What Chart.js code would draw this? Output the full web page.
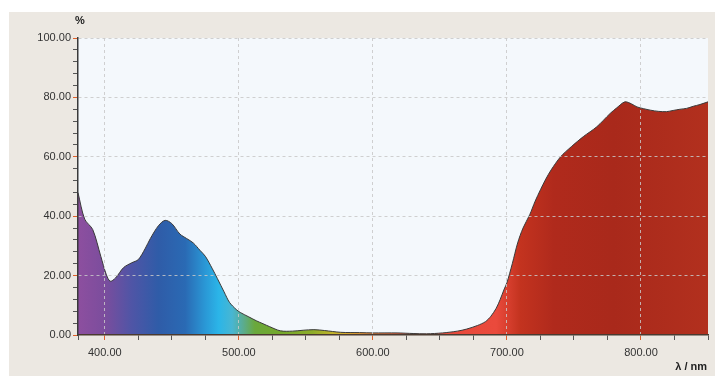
<!DOCTYPE html>
<html>
<head>
  <title>Transmission spectrum</title>
  <script src="https://cdn.jsdelivr.net/npm/chart.js"></script>
  <style>
    html, body { margin: 0; padding: 0; background: #fff; }
    #wrap { width: 723px; height: 376px; }
  </style>
</head>
<body>
  <div id="wrap"><canvas id="spectrum" width="723" height="376"></canvas></div>

  <script>
    // wavelength, nm
    const wavelengths = [380, 385, 391, 397, 401, 404, 408, 414, 420, 425, 430, 434, 440, 445, 450, 456,
      461, 466, 471, 475, 480, 484, 489, 493, 498, 501, 507, 513, 518, 523, 531, 540, 548, 556, 564,
      576, 590, 600, 618, 630, 640, 652, 663, 670, 678, 684, 688, 692, 695, 698, 700, 704, 708, 712,
      717, 721, 725, 729, 733, 740, 748, 757, 767, 777, 782, 788, 793, 797, 802, 807, 813, 819, 824,
      829, 834, 839, 844, 850];
    // transmittance, %
    const transmittance = [47.9, 39, 35.5, 26.5, 20.5, 18.1, 19.2, 22.7, 24.3, 25.4, 29, 32.5, 36.8, 38.6, 37.5, 34,
      32.5, 31, 28.5, 26.5, 22.5, 19, 14.5, 11, 8.6, 7.6, 6.2, 4.8, 3.8, 2.8, 1.4, 1.3, 1.6, 1.8, 1.5,
      0.9, 0.8, 0.7, 0.7, 0.5, 0.4, 0.7, 1.3, 2.0, 3.2, 4.5, 6.3, 9, 12, 15.5, 17.6, 24, 31, 36,
      40.5, 45, 48.9, 52.5, 55.6, 60, 63.4, 66.8, 70.1, 74.6, 76.5, 78.5, 77.8, 76.8, 76.2, 75.7, 75.3, 75.2, 75.6,
      76, 76.3, 77, 77.6, 78.5];

    const xMajor = [400, 500, 600, 700, 800];
    const xTicks = [380, 400, 425, 450, 475, 500, 525, 550, 575, 600, 625, 650, 675, 700, 725, 750, 775, 800, 825, 850];
    const yMajor = [0, 20, 40, 60, 80, 100];
    const yTicks = [0, 4, 8, 12, 16, 20, 24, 28, 32, 36, 40, 44, 48, 52, 56, 60, 64, 68, 72, 76, 80, 84, 88, 92, 96, 100];

    // colour of the fill along the wavelength axis
    const spectrum = [
      [380, "#8d4f9f"], [400, "#7b4d9d"], [420, "#4f55a6"], [440, "#2f5ca8"], [460, "#2a6ab4"],
      [475, "#2a98d6"], [485, "#2bb5e8"], [495, "#48b6d2"], [503, "#5aac92"], [512, "#6aa83c"],
      [530, "#74a82c"], [555, "#8eac2a"], [572, "#c9b42a"], [586, "#e0a030"], [600, "#e78238"],
      [620, "#e45c3a"], [660, "#e8493b"], [692, "#ea4a3c"], [710, "#c3331f"], [735, "#b02a1c"],
      [780, "#a9291b"], [850, "#b2301e"]
    ];

    const framePlugin = {
      id: "frame",
      beforeDraw(chart) {
        const { ctx, chartArea: a } = chart;
        ctx.save();
        ctx.fillStyle = "#ece8e2";
        ctx.fillRect(9, 12, 706, 364);
        ctx.fillStyle = "#f4f8fc";
        ctx.fillRect(a.left, a.top, a.right - a.left, a.bottom - a.top);
        ctx.restore();
      },
      afterDraw(chart) {
        const { ctx } = chart;
        ctx.save();
        ctx.fillStyle = "#222";
        ctx.font = "bold 11px 'Liberation Sans', Arial, sans-serif";
        ctx.textAlign = "center";
        ctx.textBaseline = "middle";
        ctx.fillText("%", 80, 21);
        ctx.textAlign = "right";
        ctx.fillText("λ / nm", 707, 367);
        ctx.restore();
      }
    };

    const gridCol = "rgba(200,200,200,0.85)";

    new Chart(document.getElementById("spectrum"), {
      type: "line",
      data: {
        datasets: [{
          data: wavelengths.map((w, i) => ({ x: w, y: transmittance[i] })),
          borderColor: "#3a3a3a",
          borderWidth: 1,
          pointRadius: 0,
          tension: 0.3,
          fill: "origin",
          backgroundColor(c) {
            const chart = c.chart;
            if (!chart.chartArea) return "rgba(0,0,0,0)";
            const x = chart.scales.x;
            const x0 = x.getPixelForValue(380), x1 = x.getPixelForValue(850);
            const g = chart.ctx.createLinearGradient(x0, 0, x1, 0);
            spectrum.forEach(([nm, col]) => g.addColorStop((nm - 380) / 470, col));
            return g;
          }
        }]
      },
      options: {
        responsive: false,
        animation: false,
        layout: { padding: { left: 8, right: 15, top: 38, bottom: 0 } },
        plugins: { legend: { display: false }, tooltip: { enabled: false } },
        scales: {
          x: {
            type: "linear",
            min: 380,
            max: 850,
            afterFit(s) { s.height = 41; },
            afterBuildTicks(s) { s.ticks = xTicks.map(v => ({ value: v })); },
            border: { color: "#4a3a30", width: 1.5, z: 2, dash: [3, 3] },
            grid: {
              z: 1,
              color: c => xMajor.includes(c.tick && c.tick.value) ? gridCol : "rgba(0,0,0,0)",
              tickColor: c => xMajor.includes(c.tick && c.tick.value) ? "#e0602a" : "#555",
              tickLength: 5,
              tickBorderDash: [],
              lineWidth: 1
            },
            ticks: {
              autoSkip: false,
              maxRotation: 0,
              padding: 6,
              color: "#333",
              font: { family: "'Liberation Sans', Arial, sans-serif", size: 11 },
              callback: v => xMajor.includes(v) ? v.toFixed(2) : ""
            }
          },
          y: {
            min: 0,
            max: 100,
            afterFit(s) { s.width = 70; },
            afterBuildTicks(s) { s.ticks = yTicks.map(v => ({ value: v })); },
            border: { color: "#3a3a3a", width: 1.5, z: 2, dash: [3, 3] },
            grid: {
              z: 1,
              color: c => yMajor.includes(c.tick && c.tick.value) && c.tick.value > 0 ? gridCol : "rgba(0,0,0,0)",
              tickColor: c => yMajor.includes(c.tick && c.tick.value) ? "#e0602a" : "#555",
              tickLength: 5,
              tickBorderDash: [],
              lineWidth: 1
            },
            ticks: {
              autoSkip: false,
              padding: 2,
              color: "#333",
              font: { family: "'Liberation Sans', Arial, sans-serif", size: 11 },
              callback: v => yMajor.includes(v) ? v.toFixed(2) : ""
            }
          }
        }
      },
      plugins: [framePlugin]
    });
  </script>
</body>
</html>
